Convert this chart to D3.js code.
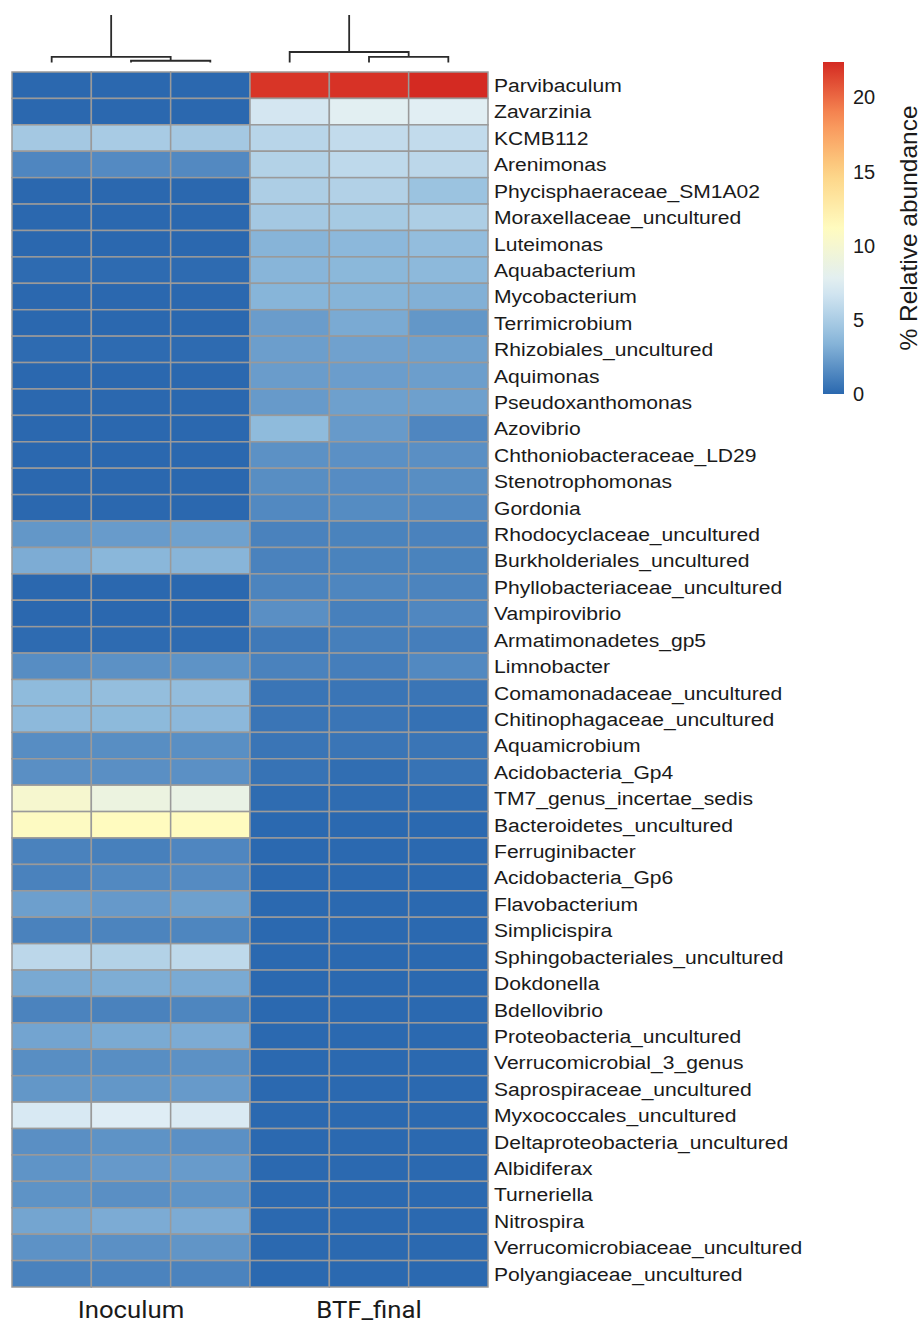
<!DOCTYPE html>
<html>
<head>
<meta charset="utf-8">
<script src="https://cdn.jsdelivr.net/npm/d3@7"></script>
<style>
  body { margin: 0; background: #ffffff; }
  svg { display: block; }
</style>
</head>
<body>
<svg id="chart" width="921" height="1324"></svg>
<script>
// Genera (rows, top to bottom)
const genera = [
  "Parvibaculum", "Zavarzinia", "KCMB112", "Arenimonas", "Phycisphaeraceae_SM1A02",
  "Moraxellaceae_uncultured", "Luteimonas", "Aquabacterium", "Mycobacterium", "Terrimicrobium",
  "Rhizobiales_uncultured", "Aquimonas", "Pseudoxanthomonas", "Azovibrio", "Chthoniobacteraceae_LD29",
  "Stenotrophomonas", "Gordonia", "Rhodocyclaceae_uncultured", "Burkholderiales_uncultured",
  "Phyllobacteriaceae_uncultured", "Vampirovibrio", "Armatimonadetes_gp5", "Limnobacter",
  "Comamonadaceae_uncultured", "Chitinophagaceae_uncultured", "Aquamicrobium", "Acidobacteria_Gp4",
  "TM7_genus_incertae_sedis", "Bacteroidetes_uncultured", "Ferruginibacter", "Acidobacteria_Gp6",
  "Flavobacterium", "Simplicispira", "Sphingobacteriales_uncultured", "Dokdonella", "Bdellovibrio",
  "Proteobacteria_uncultured", "Verrucomicrobial_3_genus", "Saprospiraceae_uncultured",
  "Myxococcales_uncultured", "Deltaproteobacteria_uncultured", "Albidiferax", "Turneriella",
  "Nitrospira", "Verrucomicrobiaceae_uncultured", "Polyangiaceae_uncultured"
];

// Samples (columns, left to right) and their groups
const samples = ["Inoculum_1", "Inoculum_2", "Inoculum_3", "BTF_final_1", "BTF_final_2", "BTF_final_3"];
const groups = ["Inoculum", "BTF_final"];
const sampleGroup = ["Inoculum", "Inoculum", "Inoculum", "BTF_final", "BTF_final", "BTF_final"];

// % relative abundance per sample, one value per genus
const inoculum1 = [0.02, 0.02, 4.7, 1.37, 0.02, 0.02, 0.02, 0.15, 0.02, 0.02,
  0.15, 0.02, 0.02, 0.02, 0.02, 0.02, 0.02, 2.1, 3.07, 0.02,
  0.02, 0.15, 1.66, 3.73, 3.65, 1.66, 1.77, 10.1, 11.0, 1.18,
  1.18, 2.47, 1.18, 5.8, 2.92, 1.22, 2.7, 1.7, 2.1, 7.1,
  1.77, 1.96, 1.92, 2.73, 1.88, 1.18];
const inoculum2 = [0.02, 0.02, 4.9, 1.55, 0.02, 0.02, 0.02, 0.15, 0.02, 0.02,
  0.15, 0.02, 0.02, 0.02, 0.02, 0.02, 0.02, 2.29, 3.55, 0.02,
  0.02, 0.15, 1.85, 3.95, 3.67, 1.7, 1.77, 8.9, 11.2, 1.07,
  1.48, 2.2, 1.25, 5.4, 3.1, 1.18, 2.95, 1.7, 2.1, 7.4,
  1.92, 2.2, 1.77, 3.03, 1.8, 1.22];
const inoculum3 = [0.02, 0.02, 4.7, 1.5, 0.02, 0.02, 0.02, 0.15, 0.02, 0.02,
  0.15, 0.02, 0.02, 0.02, 0.02, 0.02, 0.02, 2.55, 3.47, 0.02,
  0.02, 0.15, 1.92, 3.9, 3.62, 1.74, 1.8, 8.6, 11.2, 1.37,
  1.59, 2.5, 1.33, 5.9, 2.95, 1.33, 3.03, 1.85, 2.25, 7.2,
  1.8, 2.29, 1.96, 3.03, 2.03, 1.22];
const btfFinal1 = [22.0, 6.9, 5.6, 5.4, 5.1, 4.7, 3.43, 3.47, 3.45, 2.36,
  2.44, 2.36, 2.25, 3.73, 1.85, 1.7, 1.48, 1.18, 1.18, 1.25,
  1.77, 0.78, 1.18, 0.59, 0.59, 0.59, 0.48, 0.18, 0.05, 0.05,
  0.05, 0.05, 0.05, 0.05, 0.05, 0.05, 0.05, 0.05, 0.05, 0.05,
  0.05, 0.05, 0.05, 0.05, 0.05, 0.05];
const btfFinal2 = [22.1, 7.7, 6.1, 5.9, 5.35, 4.8, 3.62, 3.58, 3.4, 2.95,
  2.58, 2.4, 2.5, 2.25, 1.8, 1.62, 1.6, 1.2, 1.2, 1.33,
  1.07, 1.03, 1.0, 0.59, 0.59, 0.59, 0.26, 0.18, 0.05, 0.05,
  0.05, 0.05, 0.05, 0.05, 0.05, 0.05, 0.05, 0.05, 0.05, 0.05,
  0.05, 0.05, 0.05, 0.05, 0.05, 0.05];
const btfFinal3 = [22.4, 7.6, 6.1, 5.8, 4.3, 5.1, 3.9, 3.65, 3.25, 2.1,
  2.5, 2.44, 2.5, 1.37, 1.77, 1.7, 1.48, 1.18, 1.2, 1.25,
  1.4, 1.0, 1.48, 0.59, 0.4, 0.59, 0.48, 0.18, 0.05, 0.05,
  0.05, 0.05, 0.05, 0.05, 0.05, 0.05, 0.05, 0.05, 0.05, 0.05,
  0.05, 0.05, 0.05, 0.05, 0.05, 0.05];
const sampleValues = [inoculum1, inoculum2, inoculum3, btfFinal1, btfFinal2, btfFinal3];

// Column dendrogram: merge heights within each group
const dendroInoculum = { height: 1.6, children: [{ leaf: "Inoculum_1" }, { height: 0.5, children: [{ leaf: "Inoculum_2" }, { leaf: "Inoculum_3" }] }] };
const dendroBtf = { height: 3.0, children: [{ leaf: "BTF_final_1" }, { height: 1.6, children: [{ leaf: "BTF_final_2" }, { leaf: "BTF_final_3" }] }] };
const dendroRoot = { height: 40, children: [dendroInoculum, dendroBtf] };

// Legend
const legendTicks = [0, 5, 10, 15, 20];
const legendTitle = "% Relative abundance";
const valueMax = 22.4;

// ---------------- drawing ----------------
const svg = d3.select("#chart");

const x = d3.scaleBand().domain(samples).range([12, 488]).padding(0);
const y = d3.scaleBand().domain(genera).range([72, 1287]).padding(0);

const paletteColors = ["#2a68af", "#8fbbdc", "#e0eef5", "#fffbbf", "#fdd385", "#f88d55", "#d42a22"];
const color = d3.scaleLinear()
  .domain(paletteColors.map((_, i) => i * valueMax / (paletteColors.length - 1)))
  .range(paletteColors)
  .interpolate(d3.interpolateRgb)
  .clamp(true);

// Heatmap cells
const cells = [];
samples.forEach((s, j) => {
  genera.forEach((g, i) => {
    cells.push({ sample: s, genus: g, value: sampleValues[j][i] });
  });
});

svg.append("g")
  .selectAll("rect")
  .data(cells)
  .join("rect")
  .attr("x", d => x(d.sample))
  .attr("y", d => y(d.genus))
  .attr("width", x.bandwidth())
  .attr("height", y.bandwidth())
  .attr("fill", d => color(d.value))
  .attr("stroke", "#9a9a9a")
  .attr("stroke-width", 1.5);

// Row labels (slightly widened glyphs)
svg.append("g")
  .selectAll("text")
  .data(genera)
  .join("text")
  .attr("transform", d => `translate(494,${y(d) + y.bandwidth() / 2}) scale(1.11,1)`)
  .attr("dy", "0.36em")
  .attr("font-family", "'Liberation Sans', Arial, sans-serif")
  .attr("font-size", 19)
  .attr("fill", "#1a1a1a")
  .text(d => d);

// Group labels under the columns
const groupCenter = g => {
  const cols = samples.filter((s, j) => sampleGroup[j] === g);
  return (x(cols[0]) + x(cols[cols.length - 1]) + x.bandwidth()) / 2;
};
svg.append("g")
  .selectAll("text")
  .data(groups)
  .join("text")
  .attr("transform", d => `translate(${groupCenter(d)},1318) scale(1.05,1)`)
  .attr("text-anchor", "middle")
  .attr("font-family", "Roboto, 'Noto Sans', sans-serif")
  .attr("font-size", 24.5)
  .attr("fill", "#1a1a1a")
  .text(d => d);

// Dendrogram
const hY = d3.scaleLinear().domain([0, 1]).range([62.5, 59]);
const root = d3.hierarchy(dendroRoot);
root.eachAfter(n => {
  if (n.data.leaf) {
    n.px = x(n.data.leaf) + x.bandwidth() / 2;
    n.py = hY(0);
  } else {
    n.px = d3.mean(n.children, c => c.px);
    n.py = hY(n.data.height);
  }
});

svg.append("clipPath").attr("id", "dendro-clip")
  .append("rect").attr("x", 0).attr("y", 15).attr("width", 921).attr("height", 60);

const links = root.descendants().filter(n => n.children);
const dendroG = svg.append("g").attr("clip-path", "url(#dendro-clip)");
dendroG.selectAll("path")
  .data(links)
  .join("path")
  .attr("d", n => {
    const [a, b] = n.children;
    return `M${a.px},${a.py}V${n.py}H${b.px}V${b.py}`;
  })
  .attr("fill", "none")
  .attr("stroke", "#2b2b2b")
  .attr("stroke-width", 1.8);

// Colour legend
const legendY = d3.scaleLinear().domain([0, valueMax]).range([394, 62]);
const defs = svg.append("defs");
const grad = defs.append("linearGradient")
  .attr("id", "legend-grad")
  .attr("x1", 0).attr("y1", 1).attr("x2", 0).attr("y2", 0);
d3.range(0, 1.0001, 0.05).forEach(t => {
  grad.append("stop").attr("offset", t).attr("stop-color", color(t * valueMax));
});
svg.append("rect")
  .attr("x", 823)
  .attr("y", legendY(valueMax))
  .attr("width", 21)
  .attr("height", legendY(0) - legendY(valueMax))
  .attr("fill", "url(#legend-grad)");

const legendAxis = svg.append("g")
  .attr("transform", "translate(844,0)")
  .call(d3.axisRight(legendY).tickValues(legendTicks).tickSize(0).tickPadding(9));
legendAxis.select(".domain").remove();
legendAxis.selectAll("text")
  .attr("font-family", "'Liberation Sans', Arial, sans-serif")
  .attr("font-size", 20)
  .attr("fill", "#1a1a1a");

svg.append("text")
  .attr("transform", "translate(917,228) rotate(-90)")
  .attr("text-anchor", "middle")
  .attr("font-family", "'Liberation Sans', Arial, sans-serif")
  .attr("font-size", 24.5)
  .attr("fill", "#1a1a1a")
  .text(legendTitle);
</script>
</body>
</html>
